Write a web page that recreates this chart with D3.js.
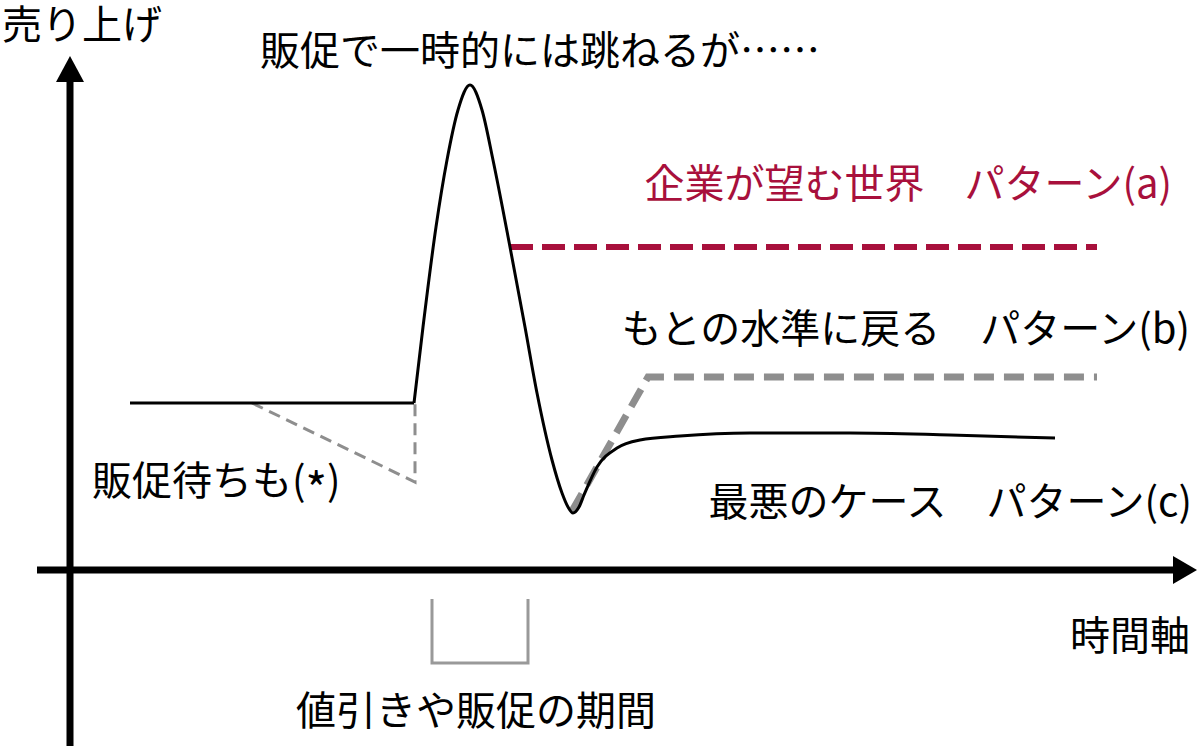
<!DOCTYPE html>
<html>
<head>
<meta charset="utf-8">
<script src="https://cdn.jsdelivr.net/npm/d3@7"></script>
<style>
  html, body { margin: 0; padding: 0; background: #fff; }
  svg { display: block; }
  text { font-family: "Noto Sans CJK JP", "Noto Sans", sans-serif; }
</style>
</head>
<body>
<svg id="chart" width="1200" height="748"></svg>
<script>
// ---- data (time units, sales units) ----
const preTime   = [6, 34.4];
const preSales  = [16.7, 16.7];

const mainTime  = [34.4, 35.3, 36.6, 37.7, 38.8, 40.0, 41.2, 42.3, 44.0, 45.5, 46.7, 48.2, 49.2, 49.8, 50.3, 50.9, 51.4, 52.7, 54.7, 57.0, 61.0, 68.0, 78.0, 88.0, 98.5];
const mainSales = [16.7, 24.3, 34.3, 41.0, 46.0, 48.5, 46.0, 41.0, 32.3, 24.3, 17.7, 11.0, 7.7, 6.3, 5.7, 6.3, 7.5, 10.3, 12.2, 13.0, 13.4, 13.7, 13.7, 13.5, 13.2];

const patternATime  = [44.0, 102.7];
const patternASales = [32.3, 32.3];

const patternBTime  = [50.2, 57.8, 102.7];
const patternBSales = [5.9, 19.3, 19.3];

const waitTime  = [18.2, 34.5, 34.5];
const waitSales = [16.7, 8.8, 16.7];

const periodTime  = [36.2, 36.2, 45.8, 45.8];
const periodSales = [-2.9, -9.3, -9.3, -2.9];

const labels = {
  yAxis: "売り上げ",
  xAxis: "時間軸",
  spike: "販促で一時的には跳ねるが……",
  a: "企業が望む世界　パターン(a)",
  b: "もとの水準に戻る　パターン(b)",
  c: "最悪のケース　パターン(c)",
  waitMain: "販促待ちも(",
  waitMark: "*",
  waitEnd: ")",
  period: "値引きや販促の期間"
};

// ---- scales ----
const x = d3.scaleLinear().domain([0, 110]).range([70, 1170]);
const y = d3.scaleLinear().domain([0, 50]).range([570, 70]);

const svg = d3.select("#chart");
const zip = (ts, vs) => ts.map((t, i) => [t, vs[i]]);
const lin = d3.line().x(d => x(d[0])).y(d => y(d[1]));
const smooth = d3.line().x(d => x(d[0])).y(d => y(d[1])).curve(d3.curveMonotoneX);

const RED = "#a8103c";
const GRAY = "#8e8e8e";

// ---- axes ----
const axisG = svg.append("g");
axisG.append("line")
  .attr("x1", x(0)).attr("x2", x(0))
  .attr("y1", y(-17.6)).attr("y2", y(49.2))
  .attr("stroke", "#000").attr("stroke-width", 7);
axisG.append("path")
  .attr("d", `M${x(0)},${y(51.4)} L${x(0) - 14},${y(48.8)} L${x(0) + 14},${y(48.8)} Z`)
  .attr("fill", "#000");
axisG.append("line")
  .attr("x1", x(-3.3)).attr("x2", x(110.5))
  .attr("y1", y(0)).attr("y2", y(0))
  .attr("stroke", "#000").attr("stroke-width", 7);
axisG.append("path")
  .attr("d", `M${x(112.7)},${y(0)} L${x(110.3)},${y(0) - 14} L${x(110.3)},${y(0) + 14} Z`)
  .attr("fill", "#000");

// ---- period bracket ----
svg.append("path")
  .attr("d", lin(zip(periodTime, periodSales)))
  .attr("fill", "none").attr("stroke", "#999").attr("stroke-width", 3);

// ---- waiting dip (*) ----
svg.append("path")
  .attr("d", lin(zip(waitTime, waitSales)))
  .attr("fill", "none").attr("stroke", GRAY).attr("stroke-width", 3)
  .attr("stroke-dasharray", "12 7");

// ---- pattern a ----
svg.append("path")
  .attr("d", lin(zip(patternATime, patternASales)))
  .attr("fill", "none").attr("stroke", RED).attr("stroke-width", 6)
  .attr("stroke-dasharray", "23 9");

// ---- pattern b ----
svg.append("path")
  .attr("d", lin(zip(patternBTime, patternBSales)))
  .attr("fill", "none").attr("stroke", GRAY).attr("stroke-width", 7)
  .attr("stroke-dasharray", "20 10");

// ---- main curve ----
svg.append("path")
  .attr("d", lin(zip(preTime, preSales)))
  .attr("fill", "none").attr("stroke", "#000").attr("stroke-width", 3);
svg.append("path")
  .attr("d", smooth(zip(mainTime, mainSales)))
  .attr("fill", "none").attr("stroke", "#000").attr("stroke-width", 3)
  .attr("stroke-linejoin", "round");

// ---- texts ----
const fs = 40;
function label(txt, px, py, color, anchor) {
  return svg.append("text")
    .attr("x", px).attr("y", py)
    .attr("font-size", fs)
    .attr("fill", color || "#000")
    .attr("text-anchor", anchor || "start")
    .attr("dominant-baseline", "central")
    .text(txt);
}
label(labels.yAxis, 2, 22);
label(labels.spike, 260, 48);
label(labels.a, 1172, 181, RED, "end");
label(labels.b, 1190, 326, "#000", "end");
label(labels.c, 1192, 499, "#000", "end");
label(labels.xAxis, 1190, 633, "#000", "end");
label(labels.period, 296, 708);

const w = svg.append("text")
  .attr("x", 92).attr("y", 478)
  .attr("font-size", fs)
  .attr("fill", "#000")
  .attr("dominant-baseline", "central");
w.append("tspan").text(labels.waitMain);
w.append("tspan").attr("dy", 9).attr("font-size", 46).text(labels.waitMark);
w.append("tspan").attr("dy", -9).text(labels.waitEnd);
</script>
</body>
</html>
